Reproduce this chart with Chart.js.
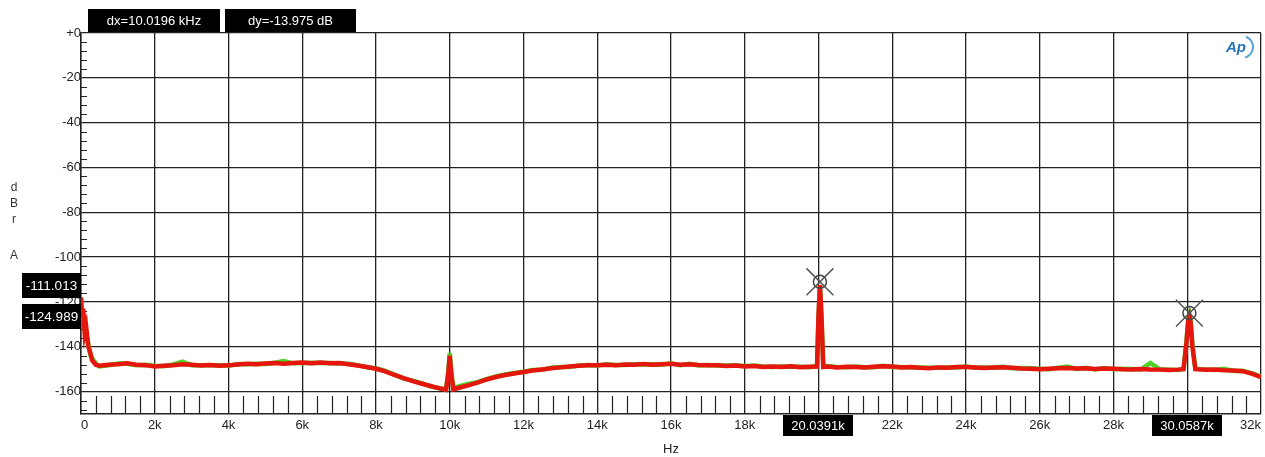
<!DOCTYPE html>
<html>
<head>
<meta charset="utf-8">
<script src="https://cdn.jsdelivr.net/npm/chart.js@4.4.1/dist/chart.umd.min.js"></script>
<style>
  body { margin: 0; background: #fff; }
  #wrap { width: 1265px; height: 457px; }
</style>
</head>
<body>
<div id="wrap"><canvas id="fft" width="1265" height="457"></canvas></div>
<script>
// FFT sweep, both channels (Hz / dBrA)
const freqHz = [
  0, 30, 60, 100, 140, 200, 250, 300, 400, 500,
  750, 1000, 1250, 1500, 1750, 2000, 2250, 2500, 2750, 3000,
  3250, 3500, 3750, 4000, 4250, 4500, 4750, 5000, 5250, 5500,
  5750, 6000, 6250, 6500, 6750, 7000, 7250, 7500, 7750, 8000,
  8250, 8500, 8750, 9000, 9250, 9500, 9750, 9900, 9960, 10000,
  10040, 10100, 10250, 10500, 10750, 11000, 11250, 11500, 11750, 12000,
  12250, 12500, 12750, 13000, 13250, 13500, 13750, 14000, 14250, 14500,
  14750, 15000, 15250, 15500, 15750, 16000, 16250, 16500, 16750, 17000,
  17250, 17500, 17750, 18000, 18250, 18500, 18750, 19000, 19250, 19500,
  19750, 19960, 20000, 20039, 20080, 20130, 20250, 20500, 20750, 21000,
  21250, 21500, 21750, 22000, 22250, 22500, 22750, 23000, 23250, 23500,
  23750, 24000, 24250, 24500, 24750, 25000, 25250, 25500, 25750, 26000,
  26250, 26500, 26750, 27000, 27250, 27500, 27750, 28000, 28250, 28500,
  28750, 29000, 29250, 29500, 29750, 29900, 29980, 30030, 30059, 30090,
  30140, 30220, 30500, 30750, 31000, 31250, 31500, 31750, 32000
];

const redDb = [
  -118, -127, -123, -134, -131, -140, -142.5, -146, -148, -148.5,
  -148, -147.8, -147.4, -148, -148.2, -148.8, -148.5, -148.2, -147.8, -148,
  -148.4, -148.1, -148.5, -148.3, -147.9, -147.6, -147.8, -147.5, -147.3, -147.6,
  -147.2, -147, -147.3, -147, -147.4, -147.3, -147.8, -148.4, -149, -149.8,
  -151, -152.6, -154, -155.3, -156.5, -157.6, -158.7, -159.2, -152, -144,
  -152, -159, -158.3, -157.2, -156, -154.6, -153.5, -152.6, -151.9, -151.3,
  -150.6, -150.1, -149.6, -149.2, -148.8, -148.5, -148.3, -148.2, -148, -148.3,
  -147.9, -148, -147.7, -148, -147.8, -147.6, -148, -147.8, -148.1, -148.3,
  -148.2, -148.6, -148.4, -148.8, -148.6, -149, -148.8, -149, -148.7, -149.1,
  -148.9, -148.8, -126, -112.5, -126, -149, -148.8, -149.2, -148.9, -149,
  -149.3, -148.9, -148.7, -148.8, -149.2, -149, -149.4, -149.6, -149.2, -149.4,
  -149, -149, -149.2, -149.5, -149.2, -149.1, -149.4, -149.7, -149.8, -150,
  -149.8, -149.6, -149.5, -149.7, -149.6, -149.9, -149.7, -149.8, -150, -150.1,
  -149.9, -150.1, -150.2, -150.4, -150.2, -150, -138, -128, -126.5, -129,
  -140, -150, -150.3, -150.2, -150.5, -150.6, -150.9, -152, -153.5
];

const greenDb = [
  -119, -125, -126, -132, -134, -139, -143.5, -145, -147.5, -148.8,
  -148.3, -147.5, -147.6, -148.2, -148, -148.5, -148.7, -147.9, -146.6, -148.2,
  -148.2, -148.3, -148.2, -148.5, -147.7, -147.8, -147.6, -147.7, -147.1, -146.4,
  -147.4, -147.2, -147.1, -147.2, -147.2, -147.5, -147.6, -148.2, -149.2, -149.6,
  -150.8, -152.4, -154.2, -155.1, -156.3, -157.8, -158.5, -159, -151, -142.8,
  -151, -158.6, -157.6, -156.6, -155.8, -154.4, -153.2, -152.4, -151.7, -151.1,
  -150.4, -150.3, -149.4, -149, -149, -148.3, -148.1, -148.4, -147.8, -148.1,
  -148.1, -147.8, -147.9, -147.8, -148, -147.4, -148.2, -147.6, -148.3, -148.1,
  -148.4, -148.4, -148.2, -148.6, -148.4, -148.8, -149, -148.8, -148.9, -148.9,
  -149.1, -148.6, -127, -113, -127, -148.8, -148.6, -149, -149.1, -148.8,
  -149.1, -149.1, -148.5, -149, -149, -149.2, -149.2, -149.4, -149.4, -149.2,
  -149.2, -148.8, -149.4, -149.3, -149.4, -148.9, -149.6, -149.5, -149.6, -149.8,
  -150, -149.4, -148.8, -149.9, -149.4, -150.1, -149.5, -150, -149.8, -149.9,
  -150.1, -147.2, -150, -150.2, -150.4, -149.8, -137, -127, -125.5, -128,
  -139, -149.8, -150.1, -150.4, -149.8, -150.8, -150.7, -151.8, -153.3
];

// cursors
const cursorHz = [20039.1, 30058.7];
const cursorDb = [-111.013, -124.989];
const cursorXLabels = ['20.0391k', '30.0587k'];
const cursorYLabels = ['-111.013', '-124.989'];
const deltaLabels = ['dx=10.0196 kHz', 'dy=-13.975 dB'];

const FONT = '"Liberation Sans", Arial, sans-serif';
Chart.defaults.font.family = FONT;
Chart.defaults.color = '#222';

const pts = (ys) => freqHz.map((f, i) => ({ x: f, y: ys[i] }));
const cursorPts = cursorHz.map((f, i) => ({ x: f, y: cursorDb[i] }));

function box(ctx, x, y, w, h, text, size) {
    ctx.fillStyle = '#000';
    ctx.fillRect(x, y, w, h);
    ctx.fillStyle = '#fff';
    ctx.font = size + 'px ' + FONT;
    ctx.textAlign = 'center';
    ctx.textBaseline = 'middle';
    ctx.fillText(text, x + w / 2, y + h / 2 + 1);
}

const decor = {
    id: 'decor',
    beforeDatasetsDraw(chart) {
        const { ctx, chartArea: a, scales: { x, y } } = chart;
        ctx.save();
        ctx.strokeStyle = '#222';
        ctx.lineWidth = 1.2;
        ctx.beginPath();
        // minor x ticks every 400 Hz
        for (let f = 400; f < 32000; f += 400) {
            if (f % 2000 === 0) continue;
            const px = Math.round(x.getPixelForValue(f)) + 0.5;
            ctx.moveTo(px, a.bottom - 18);
            ctx.lineTo(px, a.bottom);
        }
        // minor y ticks every 4 dB
        for (let v = -4; v > -170; v -= 4) {
            if (v % 20 === 0) continue;
            const py = Math.round(y.getPixelForValue(v)) + 0.5;
            ctx.moveTo(a.left, py);
            ctx.lineTo(a.left + 6, py);
        }
        ctx.stroke();
        ctx.restore();
    },
    afterDraw(chart) {
        const { ctx, scales: { x, y } } = chart;
        ctx.save();
        box(ctx, 88, 9, 132, 23, deltaLabels[0], 13);
        box(ctx, 225, 9, 131, 23, deltaLabels[1], 13);
        cursorDb.forEach((v, i) => {
            const py = y.getPixelForValue(v);
            box(ctx, 22, Math.round(py - 9), 59, 25, cursorYLabels[i], 13.5);
        });
        cursorHz.forEach((f, i) => {
            const px = x.getPixelForValue(f);
            box(ctx, Math.round(px - 37), 415, 70, 21, cursorXLabels[i], 13);
        });
        // vertical unit label
        ctx.fillStyle = '#333';
        ctx.font = '12px ' + FONT;
        ctx.textAlign = 'center';
        ctx.textBaseline = 'middle';
        ['d', 'B', 'r'].forEach((c, i) => ctx.fillText(c, 14, 188 + i * 16));
        ctx.fillText('A', 14, 256);
        // AP logo
        ctx.strokeStyle = '#5aa3d8';
        ctx.lineWidth = 2;
        ctx.beginPath();
        ctx.arc(1242, 47, 11, -1.2, 1.3);
        ctx.stroke();
        ctx.fillStyle = '#2574b8';
        ctx.font = 'italic bold 15px ' + FONT;
        ctx.textAlign = 'left';
        ctx.fillText('Ap', 1226, 48);
        ctx.restore();
    }
};

new Chart(document.getElementById('fft'), {
    type: 'line',
    data: {
        datasets: [
            {
                data: pts(redDb),
                borderColor: 'rgb(228,22,14)',
                borderWidth: 4.5,
                pointRadius: 0,
                tension: 0
            },
            {
                data: pts(greenDb),
                borderColor: 'rgb(80,210,40)',
                borderWidth: 4.5,
                pointRadius: 0,
                tension: 0
            },
            {
                data: cursorPts,
                showLine: false,
                pointStyle: 'crossRot',
                pointRadius: 19,
                pointBorderColor: '#555',
                pointBorderWidth: 1.5,
                order: -2
            },
            {
                data: cursorPts,
                showLine: false,
                pointStyle: 'circle',
                pointRadius: 6.5,
                pointBackgroundColor: 'rgba(0,0,0,0)',
                pointBorderColor: '#444',
                pointBorderWidth: 1.5,
                order: -1
            }
        ]
    },
    options: {
        responsive: false,
        animation: false,
        devicePixelRatio: 1,
        layout: { autoPadding: false, padding: { left: 0, top: 33, right: 4, bottom: 0 } },
        plugins: { legend: { display: false }, tooltip: { enabled: false } },
        scales: {
            x: {
                type: 'linear',
                min: 0,
                max: 32000,
                afterFit: (s) => { s.height = 43; s.paddingLeft = 0; s.paddingRight = 0; },
                grid: { color: '#222', lineWidth: 1.3, drawTicks: false },
                border: { color: '#222', width: 1.5 },
                ticks: {
                    stepSize: 2000,
                    padding: 4,
                    align: 'inner',
                    maxRotation: 0,
                    font: { size: 13 },
                    callback: (v) => {
                        if (v === 20000 || v === 30000) return '';
                        return v === 0 ? '0' : (v / 1000) + 'k';
                    }
                },
                title: { display: true, text: 'Hz', font: { size: 13 }, padding: { top: 0, bottom: 0 } }
            },
            y: {
                min: -170,
                max: 0,
                afterFit: (s) => { s.width = 81; },
                afterBuildTicks: (s) => { s.ticks = s.ticks.filter((t) => t.value % 20 === 0); },
                grid: { color: '#222', lineWidth: 1.3, drawTicks: false },
                border: { color: '#222', width: 1.5 },
                ticks: {
                    stepSize: 20,
                    padding: 0,
                    font: { size: 13 },
                    callback: (v) => (v === 0 ? '+0' : v)
                }
            }
        }
    },
    plugins: [decor]
});
</script>
</body>
</html>
